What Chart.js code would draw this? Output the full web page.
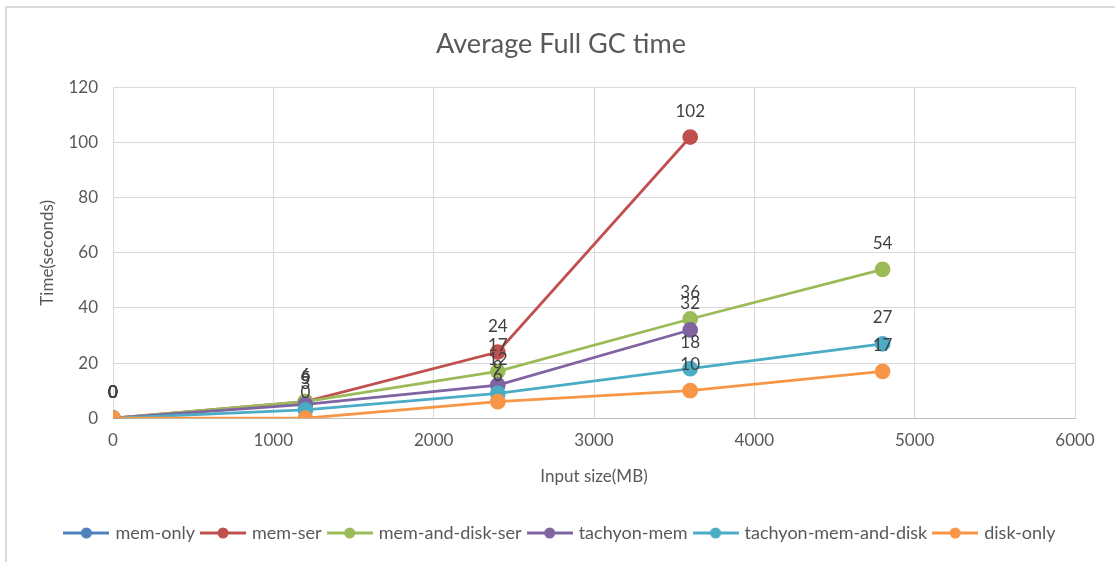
<!DOCTYPE html>
<html>
<head>
<meta charset="utf-8">
<script src="https://cdn.jsdelivr.net/npm/chart.js@4.4.1/dist/chart.umd.min.js"></script>
<style>
  body { margin: 0; background: #fff; }
  #wrap { position: relative; width: 1115px; height: 562px; }
  #frame { position: absolute; left: 5px; top: 6px; width: 1200px; height: 700px;
           border-left: 2px solid #d9d9d9; border-top: 2px solid #d9d9d9; pointer-events: none; }
  canvas { position: absolute; left: 0; top: 0; }
</style>
</head>
<body>
<div id="wrap">
  <canvas id="chart" width="1115" height="562"></canvas>
  <div id="frame"></div>
</div>
<script>
// input sizes (MB) and average full GC time (seconds)
const memOnlyX = [0];
const memOnly = [0];
const memSerX = [0, 1200, 2400, 3600];
const memSer = [0, 6, 24, 102];
const memDiskSerX = [0, 1200, 2400, 3600, 4800];
const memDiskSer = [0, 6, 17, 36, 54];
const tachyonMemX = [0, 1200, 2400, 3600];
const tachyonMem = [0, 5, 12, 32];
const tachyonMemDiskX = [0, 1200, 2400, 3600, 4800];
const tachyonMemDisk = [0, 3, 9, 18, 27];
const diskOnlyX = [0, 1200, 2400, 3600, 4800];
const diskOnly = [0, 0, 6, 10, 17];

const seriesNames = ['mem-only', 'mem-ser', 'mem-and-disk-ser', 'tachyon-mem', 'tachyon-mem-and-disk', 'disk-only'];
const seriesColors = ['#4f81bd', '#c0504d', '#9bbb59', '#8064a2', '#4bacc6', '#f79646'];
const xs = [memOnlyX, memSerX, memDiskSerX, tachyonMemX, tachyonMemDiskX, diskOnlyX];
const ys = [memOnly, memSer, memDiskSer, tachyonMem, tachyonMemDisk, diskOnly];

const FONT = 'Lato, "Liberation Sans", sans-serif';
const GREY = '#595959';

function legendIcon(color) {
    const c = document.createElement('canvas');
    c.width = 46; c.height = 14;
    const g = c.getContext('2d');
    g.strokeStyle = color; g.lineWidth = 3;
    g.beginPath(); g.moveTo(0, 7); g.lineTo(46, 7); g.stroke();
    g.fillStyle = color;
    g.beginPath(); g.arc(23, 7, 5.5, 0, Math.PI * 2); g.fill();
    return c;
}

const datasets = seriesNames.map((name, i) => ({
    label: name,
    data: xs[i].map((x, j) => ({ x: x, y: ys[i][j] })),
    borderColor: seriesColors[i],
    backgroundColor: seriesColors[i],
    borderWidth: 2.75,
    pointRadius: 6.5,
    pointHoverRadius: 6.5,
    showLine: true,
    tension: 0,
    order: seriesNames.length - i // later series drawn on top
}));

// value labels above each point
const valueLabels = {
    id: 'valueLabels',
    afterDatasetsDraw(chart) {
        const ctx = chart.ctx;
        ctx.save();
        ctx.font = '17px ' + FONT;
        ctx.fillStyle = '#404040';
        ctx.textAlign = 'center';
        ctx.textBaseline = 'middle';
        chart.data.datasets.forEach((ds, i) => {
            const meta = chart.getDatasetMeta(i);
            meta.data.forEach((pt, j) => {
                ctx.fillText(String(ds.data[j].y), pt.x, pt.y - 26);
            });
        });
        ctx.restore();
    }
};

new Chart(document.getElementById('chart'), {
    type: 'scatter',
    data: { datasets: datasets },
    plugins: [valueLabels],
    options: {
        responsive: false,
        animation: false,
        layout: { padding: { left: 47, right: 40, top: 10, bottom: 10 } },
        plugins: {
            title: {
                display: true,
                text: 'Average Full GC time',
                color: GREY,
                font: { family: FONT, size: 27, weight: 'normal' },
                padding: { top: 18, bottom: 27 }
            },
            legend: {
                position: 'bottom',
                labels: {
                    usePointStyle: true,
                    pointStyleWidth: 40,
                    color: GREY,
                    font: { family: FONT, size: 18 },
                    padding: 8,
                    generateLabels(chart) {
                        return chart.data.datasets.map((ds, i) => ({
                            text: ds.label,
                            fillStyle: ds.borderColor,
                            strokeStyle: ds.borderColor,
                            lineWidth: 0,
                            pointStyle: legendIcon(ds.borderColor),
                            fontColor: GREY,
                            hidden: !chart.isDatasetVisible(i),
                            datasetIndex: i
                        }));
                    }
                }
            },
            tooltip: { enabled: false }
        },
        scales: {
            x: {
                type: 'linear',
                min: 0,
                max: 6000,
                ticks: { stepSize: 1000, color: GREY, padding: 12, font: { family: FONT, size: 17 },
                         callback: (v) => String(v) },
                grid: { color: '#d9d9d9', drawTicks: false },
                border: { color: '#bfbfbf' },
                title: {
                    display: true,
                    text: 'Input size(MB)',
                    color: GREY,
                    font: { family: FONT, size: 17 },
                    padding: { top: 4, bottom: 29 }
                }
            },
            y: {
                min: 0,
                max: 120,
                ticks: { stepSize: 20, color: GREY, padding: 15, font: { family: FONT, size: 17 } },
                grid: { color: '#d9d9d9', drawTicks: false },
                border: { display: false },
                title: {
                    display: true,
                    text: 'Time(seconds)',
                    color: GREY,
                    font: { family: FONT, size: 17 },
                    padding: { top: -10, bottom: 0 }
                },
                afterFit(scale) { scale.width = 66; }
            }
        }
    }
});
</script>
</body>
</html>
